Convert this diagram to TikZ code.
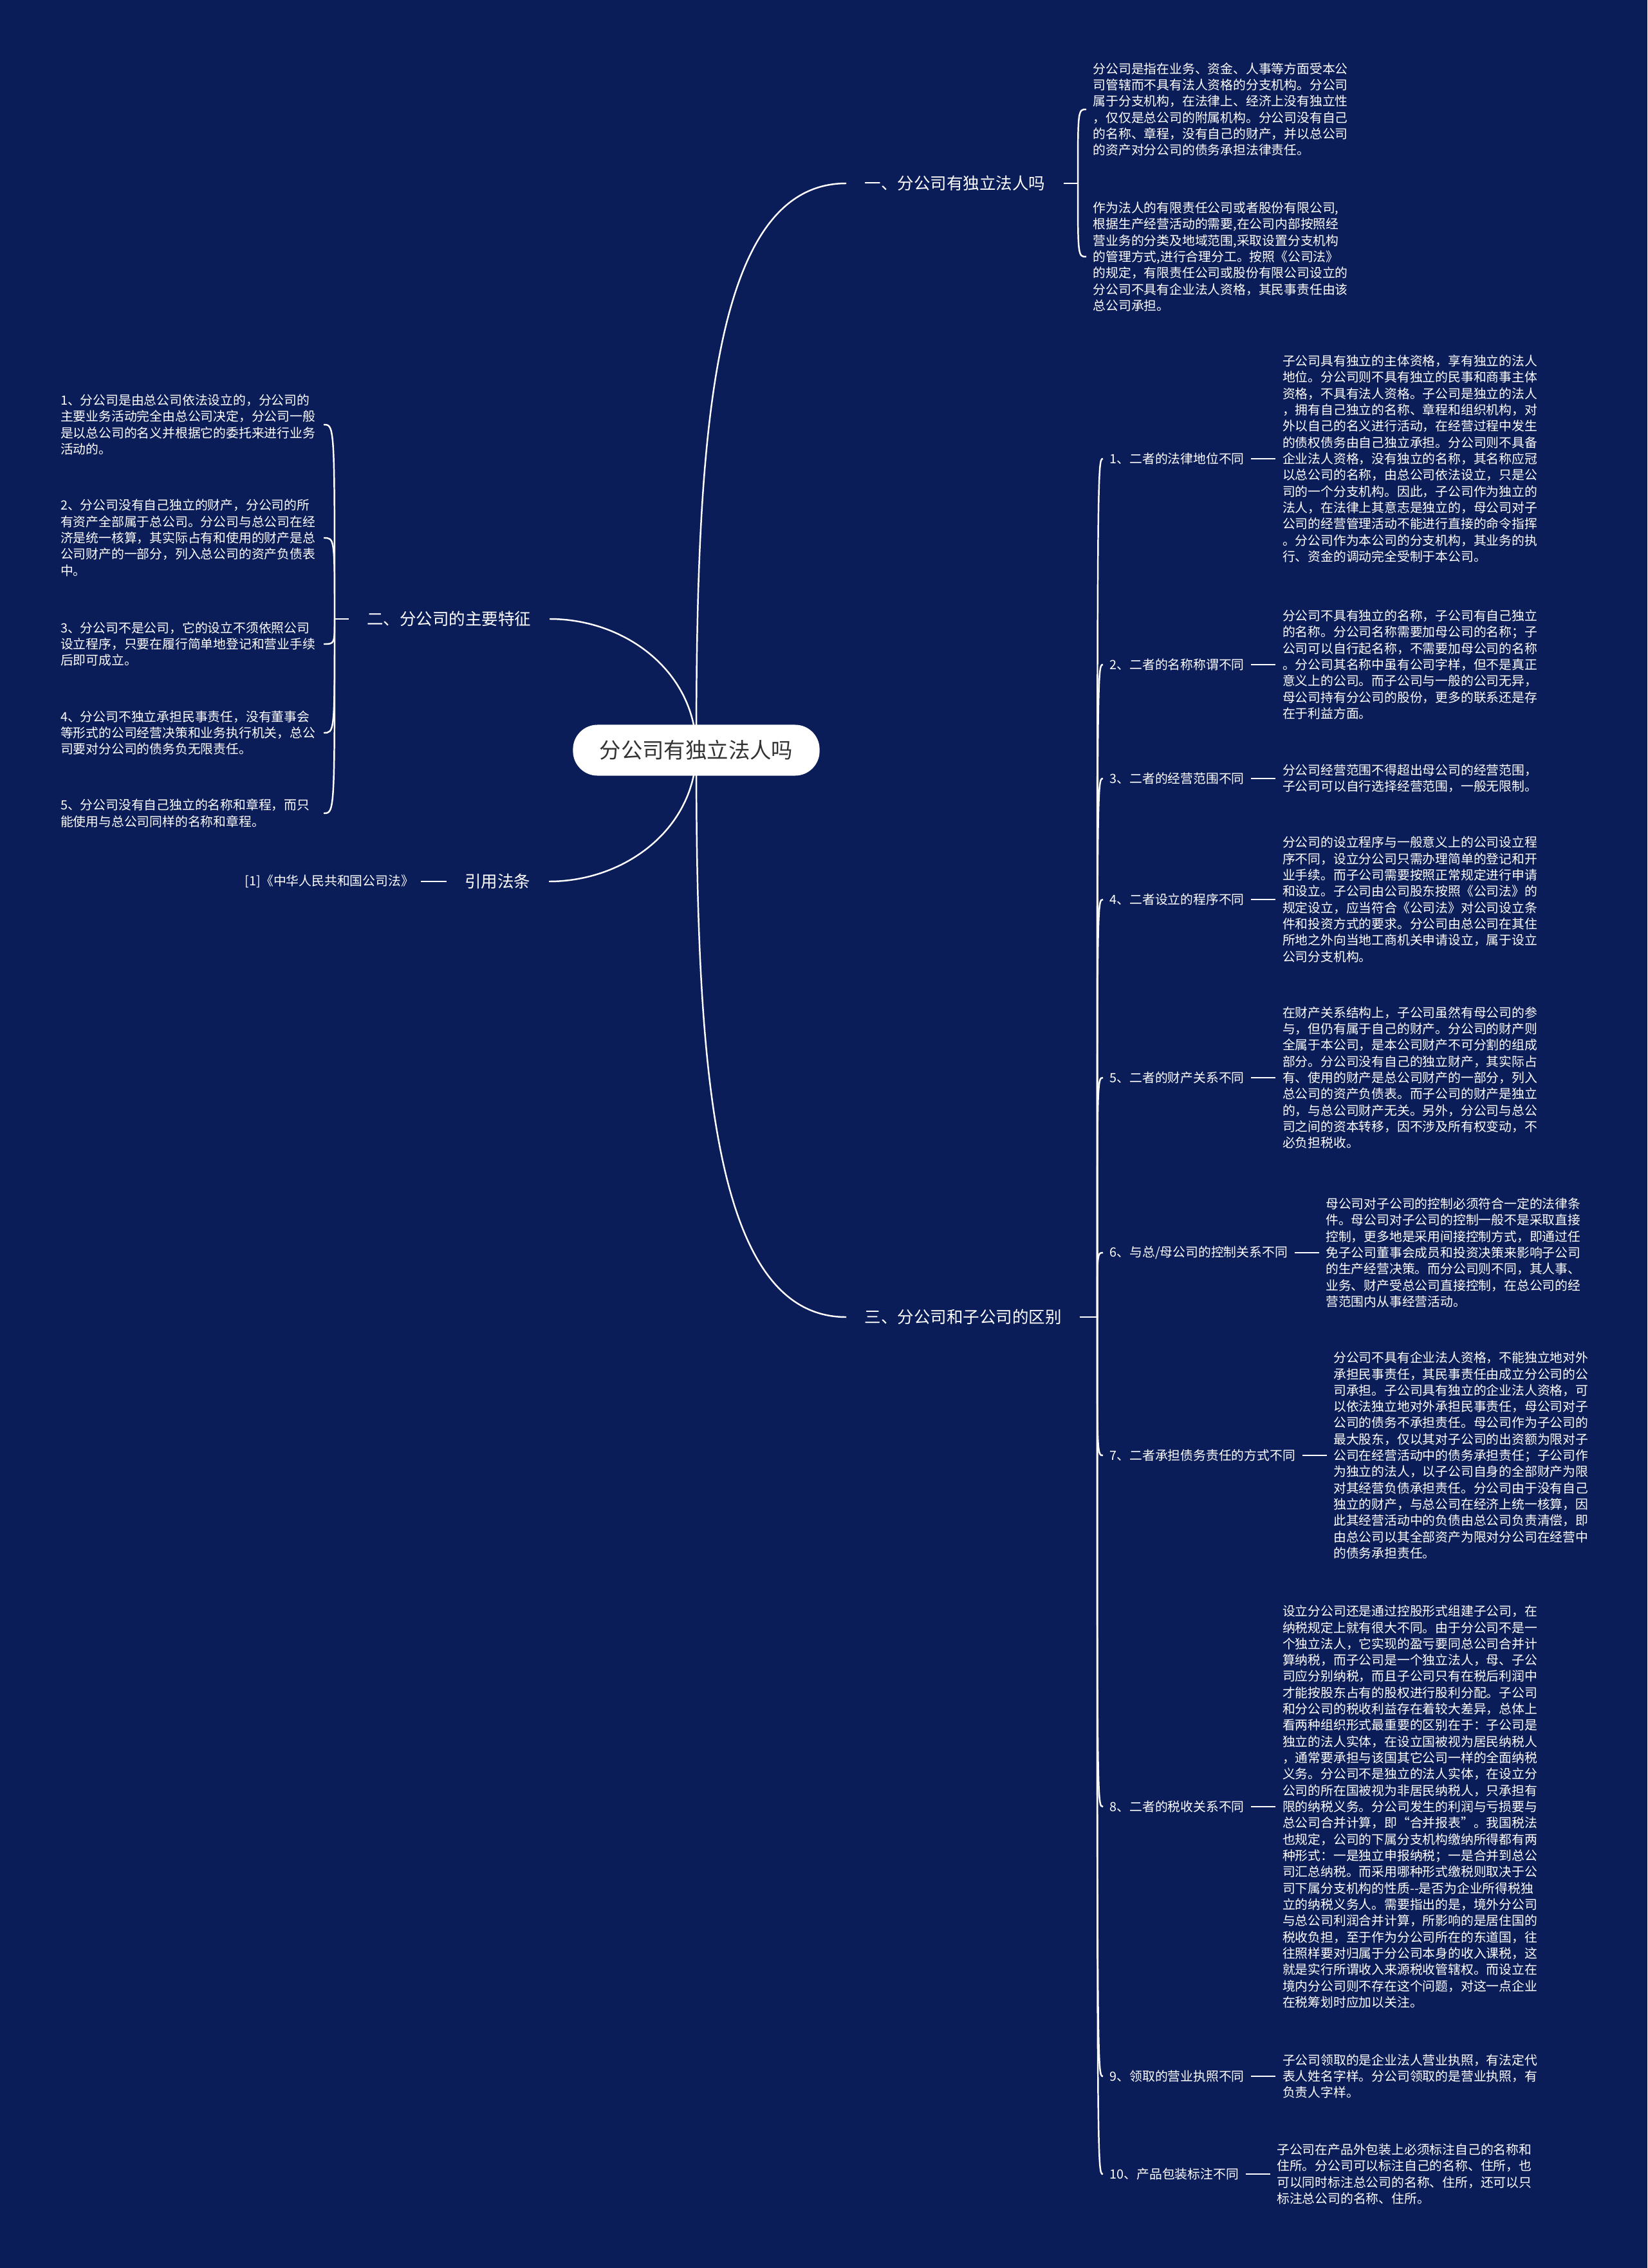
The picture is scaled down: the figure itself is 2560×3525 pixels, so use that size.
\documentclass[tikz,border=0pt]{standalone}
\usepackage{fontspec}
\setmainfont{Noto Sans CJK SC}
\usetikzlibrary{positioning}
\definecolor{navy}{RGB}{11,29,88}
\definecolor{rootink}{RGB}{51,51,51}

\begin{document}
\begin{tikzpicture}[x=0.01cm, y=-0.01cm]
\tikzset{
  link/.style={draw=white, line width=0.7pt},
  root/.style={fill=white, rounded corners=0.38cm, minimum width=3.83cm, minimum height=0.79cm, text=rootink, font=\fontsize{9.5}{11}\selectfont},
  topic/.style={text=white, inner xsep=0.28cm, font=\fontsize{7.25}{9}\selectfont},
  item/.style={text=white, inner xsep=0.1cm, font=\fontsize{5.63}{7.2}\selectfont},
  para/.style={item, align=left, text width=3.98cm, inner ysep=0pt}
}
\useasboundingbox (0,0) rectangle (2560,3525);
\fill[navy] (0,0) rectangle (2560,3525);
\coordinate (hub) at (1082,1166);

% branch one
\node[topic, anchor=west] (s1) at (1315,285) {一、分公司有独立法人吗};
\coordinate (b1) at (1675,285);
\node[para, anchor=west] (s1a) at (1688,170) {分公司是指在业务、资金、人事等方面受本公\\司管辖而不具有法人资格的分支机构。分公司\\属于分支机构，在法律上、经济上没有独立性\\，仅仅是总公司的附属机构。分公司没有自己\\的名称、章程，没有自己的财产，并以总公司\\的资产对分公司的债务承担法律责任。};
\node[para, anchor=west] (s1b) at (1688,399) {作为法人的有限责任公司或者股份有限公司,\\根据生产经营活动的需要,在公司内部按照经\\营业务的分类及地域范围,采取设置分支机构\\的管理方式,进行合理分工。按照《公司法》\\的规定，有限责任公司或股份有限公司设立的\\分公司不具有企业法人资格，其民事责任由该\\总公司承担。};

% branch two
\node[topic, anchor=east] (s2) at (854,962) {二、分公司的主要特征};
\coordinate (b2) at (520,962);
\node[para, anchor=east] (s2a) at (503,660) {1、分公司是由总公司依法设立的，分公司的\\主要业务活动完全由总公司决定，分公司一般\\是以总公司的名义并根据它的委托来进行业务\\活动的。};
\node[para, anchor=east] (s2b) at (503,836) {2、分公司没有自己独立的财产，分公司的所\\有资产全部属于总公司。分公司与总公司在经\\济是统一核算，其实际占有和使用的财产是总\\公司财产的一部分，列入总公司的资产负债表\\中。};
\node[para, anchor=east] (s2c) at (503,1001) {3、分公司不是公司，它的设立不须依照公司\\设立程序，只要在履行简单地登记和营业手续\\后即可成立。};
\node[para, anchor=east] (s2d) at (503,1139) {4、分公司不独立承担民事责任，没有董事会\\等形式的公司经营决策和业务执行机关，总公\\司要对分公司的债务负无限责任。};
\node[para, anchor=east] (s2e) at (503,1264) {5、分公司没有自己独立的名称和章程，而只\\能使用与总公司同样的名称和章程。};

% branch four
\node[topic, anchor=east] (s4) at (853,1370) {引用法条};
\node[item, left=0.4cm of s4] (law) {[1]《中华人民共和国公司法》};

% branch three
\node[topic, anchor=west] (s3) at (1315,2047) {三、分公司和子公司的区别};
\coordinate (b3) at (1705,2047);
\node[item, anchor=west] (d1) at (1714,713) {1、二者的法律地位不同};
\node[para, right=0.38cm of d1] (p1) {子公司具有独立的主体资格，享有独立的法人\\地位。分公司则不具有独立的民事和商事主体\\资格，不具有法人资格。子公司是独立的法人\\，拥有自己独立的名称、章程和组织机构，对\\外以自己的名义进行活动，在经营过程中发生\\的债权债务由自己独立承担。分公司则不具备\\企业法人资格，没有独立的名称，其名称应冠\\以总公司的名称，由总公司依法设立，只是公\\司的一个分支机构。因此，子公司作为独立的\\法人，在法律上其意志是独立的，母公司对子\\公司的经营管理活动不能进行直接的命令指挥\\。分公司作为本公司的分支机构，其业务的执\\行、资金的调动完全受制于本公司。};
\node[item, anchor=west] (d2) at (1714,1033) {2、二者的名称称谓不同};
\node[para, right=0.38cm of d2] (p2) {分公司不具有独立的名称，子公司有自己独立\\的名称。分公司名称需要加母公司的名称；子\\公司可以自行起名称，不需要加母公司的名称\\。分公司其名称中虽有公司字样，但不是真正\\意义上的公司。而子公司与一般的公司无异，\\母公司持有分公司的股份，更多的联系还是存\\在于利益方面。};
\node[item, anchor=west] (d3) at (1714,1210) {3、二者的经营范围不同};
\node[para, right=0.38cm of d3] (p3) {分公司经营范围不得超出母公司的经营范围，\\子公司可以自行选择经营范围，一般无限制。};
\node[item, anchor=west] (d4) at (1714,1398) {4、二者设立的程序不同};
\node[para, right=0.38cm of d4] (p4) {分公司的设立程序与一般意义上的公司设立程\\序不同，设立分公司只需办理简单的登记和开\\业手续。而子公司需要按照正常规定进行申请\\和设立。子公司由公司股东按照《公司法》的\\规定设立，应当符合《公司法》对公司设立条\\件和投资方式的要求。分公司由总公司在其住\\所地之外向当地工商机关申请设立，属于设立\\公司分支机构。};
\node[item, anchor=west] (d5) at (1714,1675) {5、二者的财产关系不同};
\node[para, right=0.38cm of d5] (p5) {在财产关系结构上，子公司虽然有母公司的参\\与，但仍有属于自己的财产。分公司的财产则\\全属于本公司，是本公司财产不可分割的组成\\部分。分公司没有自己的独立财产，其实际占\\有、使用的财产是总公司财产的一部分，列入\\总公司的资产负债表。而子公司的财产是独立\\的，与总公司财产无关。另外，分公司与总公\\司之间的资本转移，因不涉及所有权变动，不\\必负担税收。};
\node[item, anchor=west] (d6) at (1714,1947) {6、与总/母公司的控制关系不同};
\node[para, right=0.38cm of d6] (p6) {母公司对子公司的控制必须符合一定的法律条\\件。母公司对子公司的控制一般不是采取直接\\控制，更多地是采用间接控制方式，即通过任\\免子公司董事会成员和投资决策来影响子公司\\的生产经营决策。而分公司则不同，其人事、\\业务、财产受总公司直接控制，在总公司的经\\营范围内从事经营活动。};
\node[item, anchor=west] (d7) at (1714,2262) {7、二者承担债务责任的方式不同};
\node[para, right=0.38cm of d7] (p7) {分公司不具有企业法人资格，不能独立地对外\\承担民事责任，其民事责任由成立分公司的公\\司承担。子公司具有独立的企业法人资格，可\\以依法独立地对外承担民事责任，母公司对子\\公司的债务不承担责任。母公司作为子公司的\\最大股东，仅以其对子公司的出资额为限对子\\公司在经营活动中的债务承担责任；子公司作\\为独立的法人，以子公司自身的全部财产为限\\对其经营负债承担责任。分公司由于没有自己\\独立的财产，与总公司在经济上统一核算，因\\此其经营活动中的负债由总公司负责清偿，即\\由总公司以其全部资产为限对分公司在经营中\\的债务承担责任。};
\node[item, anchor=west] (d8) at (1714,2808) {8、二者的税收关系不同};
\node[para, right=0.38cm of d8] (p8) {设立分公司还是通过控股形式组建子公司，在\\纳税规定上就有很大不同。由于分公司不是一\\个独立法人，它实现的盈亏要同总公司合并计\\算纳税，而子公司是一个独立法人，母、子公\\司应分别纳税，而且子公司只有在税后利润中\\才能按股东占有的股权进行股利分配。子公司\\和分公司的税收利益存在着较大差异，总体上\\看两种组织形式最重要的区别在于：子公司是\\独立的法人实体，在设立国被视为居民纳税人\\，通常要承担与该国其它公司一样的全面纳税\\义务。分公司不是独立的法人实体，在设立分\\公司的所在国被视为非居民纳税人，只承担有\\限的纳税义务。分公司发生的利润与亏损要与\\总公司合并计算，即“合并报表”。我国税法\\也规定，公司的下属分支机构缴纳所得都有两\\种形式：一是独立申报纳税；一是合并到总公\\司汇总纳税。而采用哪种形式缴税则取决于公\\司下属分支机构的性质-{}-是否为企业所得税独\\立的纳税义务人。需要指出的是，境外分公司\\与总公司利润合并计算，所影响的是居住国的\\税收负担，至于作为分公司所在的东道国，往\\往照样要对归属于分公司本身的收入课税，这\\就是实行所谓收入来源税收管辖权。而设立在\\境内分公司则不存在这个问题，对这一点企业\\在税筹划时应加以关注。};
\node[item, anchor=west] (d9) at (1714,3227) {9、领取的营业执照不同};
\node[para, right=0.38cm of d9] (p9) {子公司领取的是企业法人营业执照，有法定代\\表人姓名字样。分公司领取的是营业执照，有\\负责人字样。};
\node[item, anchor=west] (d10) at (1714,3379) {10、产品包装标注不同};
\node[para, right=0.38cm of d10] (p10) {子公司在产品外包装上必须标注自己的名称和\\住所。分公司可以标注自己的名称、住所，也\\可以同时标注总公司的名称、住所，还可以只\\标注总公司的名称、住所。};

% root curves
\draw[link] (hub) .. controls +(0,-485) and +(-210,0) .. (s1.west);
\draw[link] (hub) .. controls +(0,485) and +(-210,0) .. (s3.west);
\draw[link] (hub) .. controls +(0,-120) and +(120,0) .. (s2.east);
\draw[link] (hub) .. controls +(0,120) and +(120,0) .. (s4.east);

% brackets
\draw[link] (s1.east) -- (b1);
\draw[link] (b1) .. controls (b1 |- s1a.west) .. (s1a.west);
\draw[link] (b1) .. controls (b1 |- s1b.west) .. (s1b.west);

\draw[link] (s2.west) -- (b2);
\draw[link] (b2) .. controls (b2 |- s2a.east) .. (s2a.east);
\draw[link] (b2) .. controls (b2 |- s2b.east) .. (s2b.east);
\draw[link] (b2) .. controls (b2 |- s2c.east) .. (s2c.east);
\draw[link] (b2) .. controls (b2 |- s2d.east) .. (s2d.east);
\draw[link] (b2) .. controls (b2 |- s2e.east) .. (s2e.east);

\draw[link] (s4.west) -- (law.east);

\draw[link] (s3.east) -- (b3);
\draw[link] (b3) .. controls (b3 |- d1.west) .. (d1.west);
\draw[link] (b3) .. controls (b3 |- d2.west) .. (d2.west);
\draw[link] (b3) .. controls (b3 |- d3.west) .. (d3.west);
\draw[link] (b3) .. controls (b3 |- d4.west) .. (d4.west);
\draw[link] (b3) .. controls (b3 |- d5.west) .. (d5.west);
\draw[link] (b3) .. controls (b3 |- d6.west) .. (d6.west);
\draw[link] (b3) .. controls (b3 |- d7.west) .. (d7.west);
\draw[link] (b3) .. controls (b3 |- d8.west) .. (d8.west);
\draw[link] (b3) .. controls (b3 |- d9.west) .. (d9.west);
\draw[link] (b3) .. controls (b3 |- d10.west) .. (d10.west);
\draw[link] (d1.east) -- (p1.west);
\draw[link] (d2.east) -- (p2.west);
\draw[link] (d3.east) -- (p3.west);
\draw[link] (d4.east) -- (p4.west);
\draw[link] (d5.east) -- (p5.west);
\draw[link] (d6.east) -- (p6.west);
\draw[link] (d7.east) -- (p7.west);
\draw[link] (d8.east) -- (p8.west);
\draw[link] (d9.east) -- (p9.west);
\draw[link] (d10.east) -- (p10.west);

% centre
\node[root] (root) at (hub) {分公司有独立法人吗};
\end{tikzpicture}
\end{document}
